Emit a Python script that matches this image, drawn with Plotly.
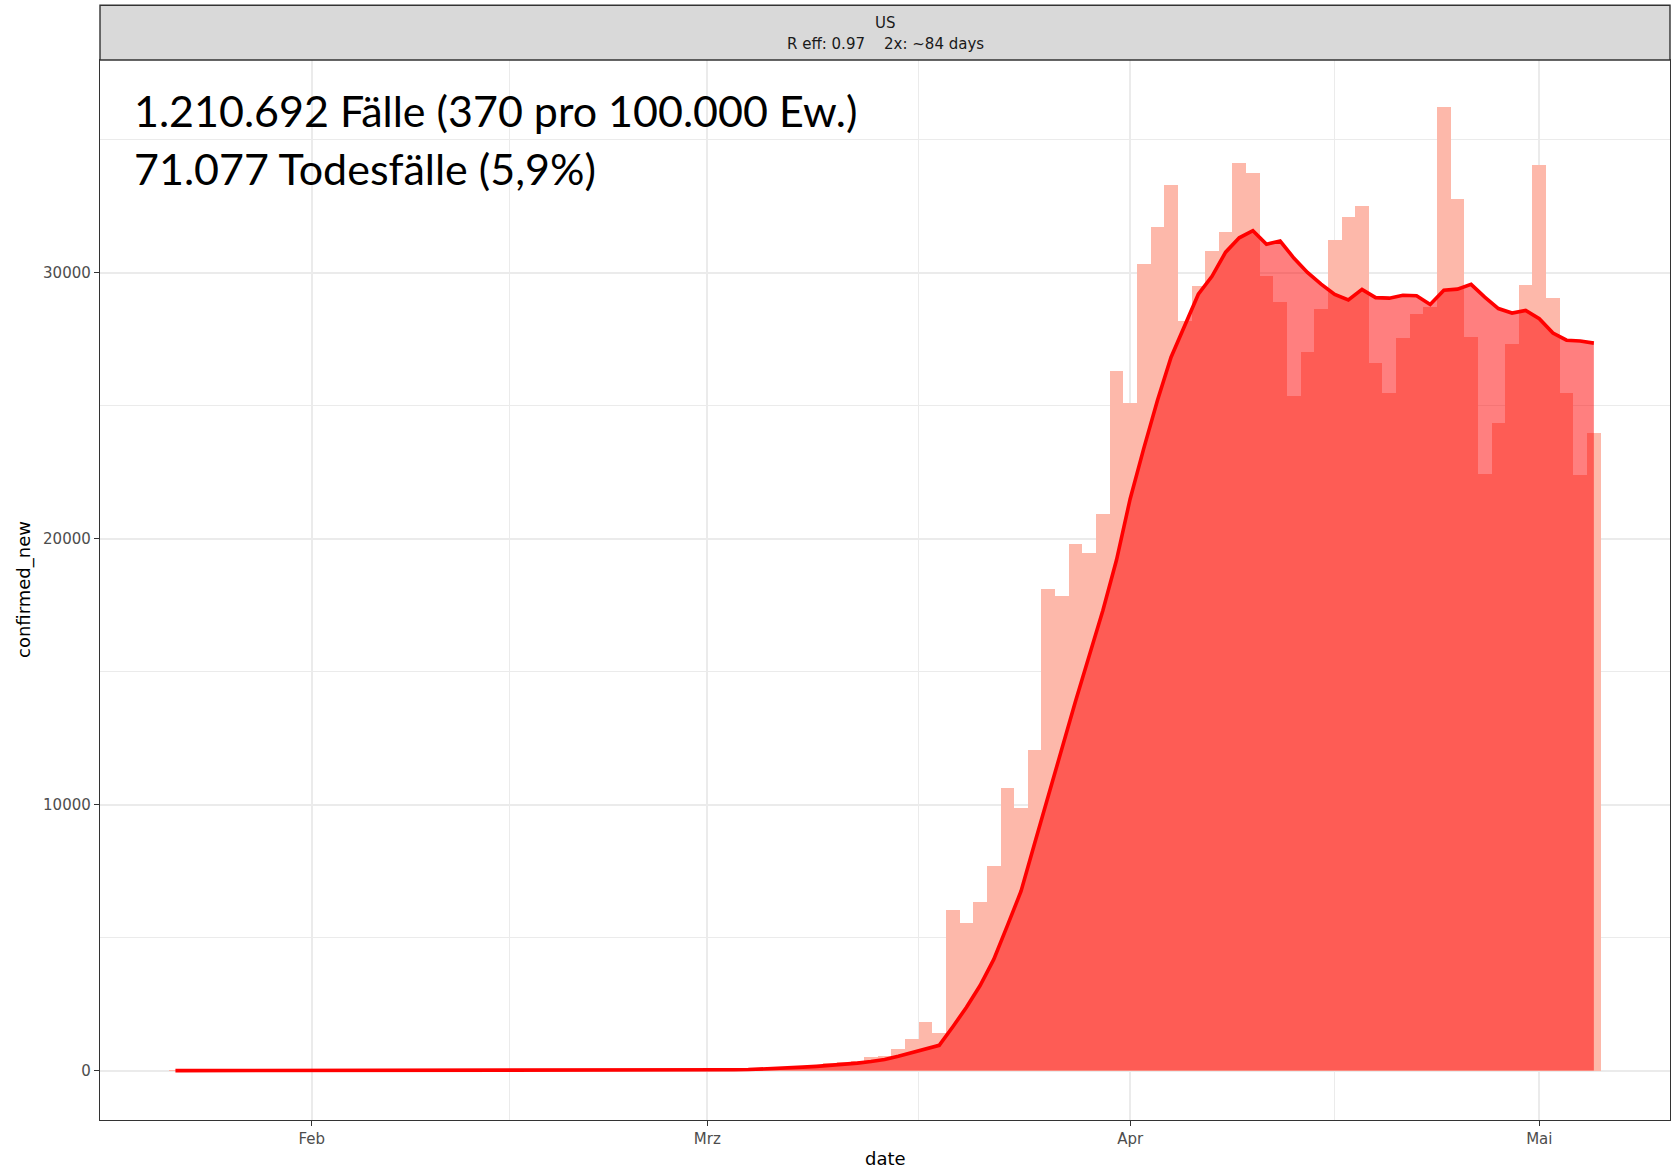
import pandas as pd
import plotly.graph_objects as go

# ---------------- data ----------------
start_date = "2020-01-22"

new_jan = [1, 0, 1, 0, 3, 0, 0, 0, 1, 1]
new_feb = [0, 1, 3, 0, 1, 0, 0, 0, 0, 1, 0, 0, 1, 0, 0, 0, 0, 0, 0, 0,
           2, 0, 0, 0, 0, 1, 0, 2, 5]
new_mar = [10, 25, 20, 35, 70, 55, 120, 110, 170, 300, 340, 360, 520, 560,
           800, 1180, 1820, 1420, 6040, 5540, 6330, 7710, 10620, 9890, 12040,
           18120, 17850, 19790, 19460, 20915, 26300]
new_apr = [25100, 30340, 31720, 33320, 28180, 29520, 30820, 31540, 34150,
           33750, 29870, 28900, 25380, 27030, 28640, 31230, 32120, 32530,
           26630, 25500, 27540, 28470, 28700, 36255, 32790, 27600, 22450,
           24370, 27340, 29540]
new_may = [34070, 29050, 25500, 22390, 23980]

smooth_jan = [0, 0, 0, 0, 0, 0, 0, 0, 0, 0]
smooth_feb = [0, 0, 0, 0, 0, 0, 0, 0, 0, 0, 0, 0, 0, 0, 0, 0, 0, 0, 0, 0,
              0, 0, 0, 0, 1, 1, 2, 3, 5]
smooth_mar = [10, 20, 30, 40, 55, 80, 105, 130, 160, 190, 230, 280, 340,
              420, 540, 670, 810, 950, 1650, 2380, 3200, 4180, 5450, 6750,
              8550, 10350, 12150, 13900, 15600, 17300, 19200]
smooth_apr = [21500, 23400, 25200, 26830, 28050, 29200, 29870, 30780, 31320,
              31590, 31080, 31200, 30560, 30020, 29580, 29190, 28980, 29380,
              29070, 29050, 29160, 29140, 28810, 29350, 29390, 29570, 29090,
              28660, 28490, 28590]
smooth_may = [28280, 27740, 27470, 27440, 27360]

confirmed_new = new_jan + new_feb + new_mar + new_apr + new_may
smoothed = smooth_jan + smooth_feb + smooth_mar + smooth_apr + smooth_may
dates = pd.date_range(start_date, periods=len(confirmed_new), freq="D")

x_tickvals = ["2020-02-01", "2020-03-01", "2020-04-01", "2020-05-01"]
x_ticktext = ["Feb", "Mrz", "Apr", "Mai"]
x_minor = ["2020-01-16 12:00", "2020-02-15 12:00", "2020-03-16 12:00",
           "2020-04-16 00:00"]
y_tickvals = [0, 10000, 20000, 30000]
y_ticktext = ["0", "10000", "20000", "30000"]

strip_title = "US"
strip_sub = "R eff: 0.97    2x: ~84 days"
info_line1 = "1.210.692 Fälle (370 pro 100.000 Ew.)"
info_line2 = "71.077 Todesfälle (5,9%)"

# ---------------- figure ----------------
fig = go.Figure()
fig.add_trace(go.Bar(x=dates, y=confirmed_new,
                     marker=dict(color="rgb(253,184,170)", line=dict(width=0)),
                     hoverinfo="x+y"))
fig.add_trace(go.Scatter(x=dates, y=smoothed, mode="lines", fill="tozeroy",
                         fillcolor="rgba(255,0,0,0.5)",
                         line=dict(width=0, color="rgba(255,0,0,0)")))
fig.add_trace(go.Scatter(x=dates, y=smoothed, mode="lines",
                         line=dict(width=3.6, color="#FF0000")))

W, H = 1677, 1170
L, R, T, B = 100, 7, 60, 50
ph = H - T - B
pw = W - L - R
strip_h = 54.7

axis_common = dict(showline=True, mirror=True, linecolor="#333333",
                   linewidth=1.4, ticks="outside", ticklen=5, tickwidth=1.2,
                   tickcolor="#333333", showgrid=True, gridcolor="#EBEBEB",
                   gridwidth=1.6, zeroline=False,
                   tickfont=dict(family="DejaVu Sans", size=15, color="#4D4D4D"))

fig.update_layout(
    width=W, height=H,
    margin=dict(l=L, r=R, t=T, b=B, pad=0),
    paper_bgcolor="white", plot_bgcolor="white",
    showlegend=False, bargap=0,
    xaxis=dict(type="date", range=["2020-01-16 11:15", "2020-05-10 14:00"],
               tickmode="array", tickvals=x_tickvals, ticktext=x_ticktext,
               minor=dict(tickvals=x_minor, showgrid=True, gridcolor="#EBEBEB",
                          gridwidth=1.2, ticks=""),
               **axis_common),
    yaxis=dict(range=[-1858, 38007], tickmode="array", tickvals=y_tickvals,
               ticktext=y_ticktext,
               minor=dict(dtick=5000, tick0=0, showgrid=True,
                          gridcolor="#EBEBEB", gridwidth=1.2, ticks=""),
               **axis_common),
)

# facet strip
fig.add_shape(type="rect", xref="paper", yref="paper", x0=0, x1=1,
              y0=1, y1=1 + strip_h / ph, fillcolor="#D9D9D9",
              line=dict(color="#333333", width=1.4), layer="above")
fig.add_annotation(xref="paper", yref="paper", x=0.5, y=(ph + 36.5) / ph,
                   text=strip_title, showarrow=False, yanchor="middle",
                   font=dict(family="DejaVu Sans", size=15, color="#1A1A1A"))
fig.add_annotation(xref="paper", yref="paper", x=0.5, y=(ph + 16) / ph,
                   text=strip_sub, showarrow=False, yanchor="middle",
                   font=dict(family="DejaVu Sans", size=15, color="#1A1A1A"))

# axis titles
fig.add_annotation(xref="paper", yref="paper", x=0.5, y=-38 / ph,
                   text="date", showarrow=False, yanchor="middle",
                   font=dict(family="DejaVu Sans", size=18, color="#000000"))
fig.add_annotation(xref="paper", yref="paper", x=-76 / pw, y=0.5,
                   text="confirmed_new", showarrow=False, textangle=-90,
                   xanchor="center", yanchor="middle",
                   font=dict(family="DejaVu Sans", size=18, color="#000000"))

# info text
fig.add_annotation(xref="paper", yref="paper", x=32 / pw,
                   y=(1120 - 110.5) / ph, text=info_line1, showarrow=False,
                   xanchor="left", yanchor="middle",
                   font=dict(family="Lato", size=43, color="#000000"))
fig.add_annotation(xref="paper", yref="paper", x=32 / pw,
                   y=(1120 - 168.5) / ph, text=info_line2, showarrow=False,
                   xanchor="left", yanchor="middle",
                   font=dict(family="Lato", size=43, color="#000000"))

fig.write_html("out.html",
               config={"displayModeBar": False},
               post_script="document.body.style.margin='0';"
                           "document.body.style.overflow='hidden';")
